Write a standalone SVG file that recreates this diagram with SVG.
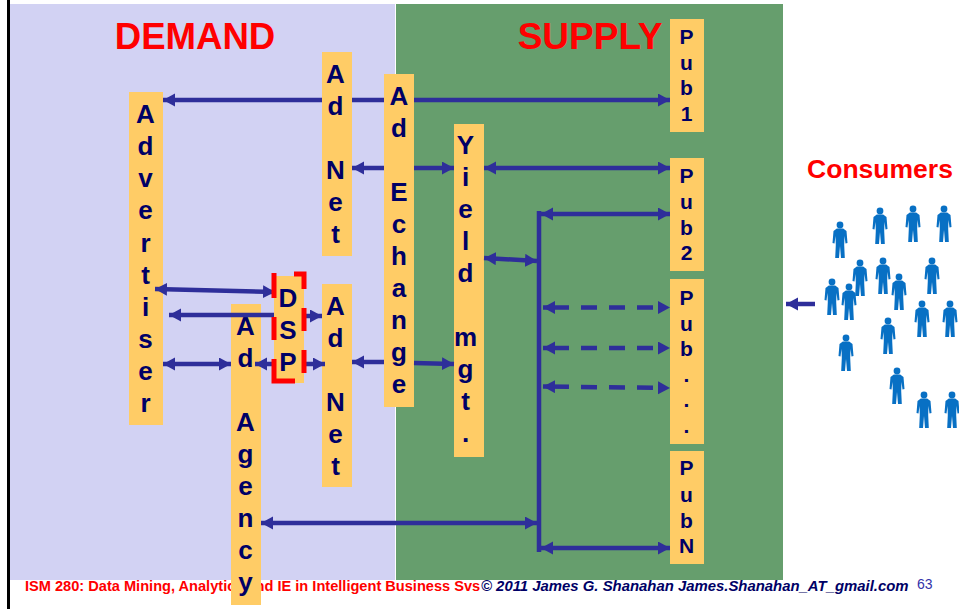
<svg xmlns="http://www.w3.org/2000/svg" width="959" height="609" viewBox="0 0 959 609">
<style>
text{font-family:"Liberation Sans",Arial,sans-serif}
.box{fill:#ffcc66}
.big{font-size:26px;font-weight:bold;fill:#000066;text-anchor:middle}
.small{font-size:21px;font-weight:bold;fill:#000066;text-anchor:middle}
.c{fill:none;stroke:#2e2e9a;stroke-width:4.5}
.both{marker-start:url(#ah);marker-end:url(#ah)}
.end{marker-end:url(#ah)}
.start{marker-start:url(#ah)}
.dash{stroke-dasharray:26 12 16 12 16 12 16 20}
.red{fill:none;stroke:#ff0000;stroke-width:5}
.p{fill:#0870c4}
</style>
<defs>
<marker id="ah" markerUnits="userSpaceOnUse" markerWidth="14" markerHeight="14" refX="12" refY="6.5" orient="auto-start-reverse"><path d="M0 0L12 6.5L0 13Z" fill="#2e2e9a"/></marker>
<g id="person"><circle cx="0" cy="-15" r="3.4"/><path d="M-3.2 -11.5H3.2L6.5 -9L7.5 3L5.5 3.5L4.5 -4L4.2 5L4.8 18H1L0 6L-1 18H-4.8L-4.2 5L-4.5 -4L-5.5 3.5L-7.5 3L-6.5 -9Z"/></g>
</defs>
<rect width="959" height="609" fill="#ffffff"/>
<rect x="7" y="0" width="3" height="609" fill="#000000"/>
<rect x="10" y="4" width="385" height="576" fill="#d2d2f3"/>
<rect x="396" y="4" width="387" height="576" fill="#669e6d"/>
<text x="195" y="49" font-size="36.6" font-weight="bold" fill="#ff0000" text-anchor="middle">DEMAND</text>
<text x="590" y="49" font-size="37" font-weight="bold" fill="#ff0000" text-anchor="middle">SUPPLY</text>
<text x="880" y="178" font-size="26.5" font-weight="bold" fill="#ff0000" text-anchor="middle">Consumers</text>
<text x="25" y="591" font-size="14.6" font-weight="bold" fill="#ff0000">ISM 280: Data Mining, Analytics and IE in Intelligent Business Svs</text>
<text x="481" y="591" font-size="14.9" font-weight="bold" font-style="italic" fill="#000066">© 2011 James G. Shanahan James.Shanahan_AT_gmail.com</text>
<text x="917" y="589" font-size="14" fill="#3333aa">63</text>

<g id="advertiser"><rect class="box" x="129" y="92" width="34" height="333"/><text class="big"><tspan x="145.5" y="123">A</tspan><tspan x="145.5" y="155">d</tspan><tspan x="145.5" y="187">v</tspan><tspan x="145.5" y="219">e</tspan><tspan x="145.5" y="252">r</tspan><tspan x="145.5" y="284">t</tspan><tspan x="145.5" y="316">i</tspan><tspan x="145.5" y="348">s</tspan><tspan x="145.5" y="380">e</tspan><tspan x="145.5" y="412">r</tspan></text></g>
<g id="adnet1"><rect class="box" x="322" y="52" width="30" height="204"/><text class="big"><tspan x="335.5" y="83">A</tspan><tspan x="335.5" y="115">d</tspan><tspan x="335.5" y="179">N</tspan><tspan x="335.5" y="211">e</tspan><tspan x="335.5" y="243">t</tspan></text></g>
<g id="adexchange"><rect class="box" x="384" y="74" width="30" height="333"/><text class="big"><tspan x="399" y="105">A</tspan><tspan x="399" y="137">d</tspan><tspan x="399" y="201">E</tspan><tspan x="399" y="233">c</tspan><tspan x="399" y="265">h</tspan><tspan x="399" y="297">a</tspan><tspan x="399" y="329">n</tspan><tspan x="399" y="361">g</tspan><tspan x="399" y="393">e</tspan></text></g>
<g id="yield"><rect class="box" x="454" y="124" width="30" height="333"/><text class="big"><tspan x="465.5" y="154">Y</tspan><tspan x="465.5" y="186">i</tspan><tspan x="465.5" y="218">e</tspan><tspan x="465.5" y="250">l</tspan><tspan x="465.5" y="282">d</tspan><tspan x="465.5" y="346">m</tspan><tspan x="465.5" y="378">g</tspan><tspan x="465.5" y="410">t</tspan><tspan x="465.5" y="442">.</tspan></text></g>
<g id="adagency"><rect class="box" x="231" y="304" width="30" height="301"/><text class="big"><tspan x="245.5" y="335">A</tspan><tspan x="245.5" y="367">d</tspan><tspan x="245.5" y="431">A</tspan><tspan x="245.5" y="463">g</tspan><tspan x="245.5" y="495">e</tspan><tspan x="245.5" y="527">n</tspan><tspan x="245.5" y="559">c</tspan><tspan x="245.5" y="591">y</tspan></text></g>
<g id="adnet2"><rect class="box" x="322" y="284" width="30" height="203"/><text class="big"><tspan x="335.5" y="315">A</tspan><tspan x="335.5" y="347">d</tspan><tspan x="335.5" y="411">N</tspan><tspan x="335.5" y="443">e</tspan><tspan x="335.5" y="475">t</tspan></text></g>
<g id="pub1"><rect class="box" x="670" y="19" width="34" height="113"/><text class="small"><tspan x="686.5" y="44">P</tspan><tspan x="686.5" y="70">u</tspan><tspan x="686.5" y="95">b</tspan><tspan x="686.5" y="121">1</tspan></text></g>
<g id="pub2"><rect class="box" x="670" y="158" width="34" height="113"/><text class="small"><tspan x="686.5" y="183">P</tspan><tspan x="686.5" y="209">u</tspan><tspan x="686.5" y="235">b</tspan><tspan x="686.5" y="260">2</tspan></text></g>
<g id="pubdots"><rect class="box" x="670" y="279" width="34" height="165"/><text class="small"><tspan x="686.5" y="305">P</tspan><tspan x="686.5" y="331">u</tspan><tspan x="686.5" y="356">b</tspan><tspan x="686.5" y="382">.</tspan><tspan x="686.5" y="407">.</tspan><tspan x="686.5" y="433">.</tspan></text></g>
<g id="pubn"><rect class="box" x="670" y="451" width="34" height="113"/><text class="small"><tspan x="686.5" y="475">P</tspan><tspan x="686.5" y="502">u</tspan><tspan x="686.5" y="528">b</tspan><tspan x="686.5" y="553">N</tspan></text></g>

<g id="connectors">
<path class="c both" d="M163 100H322M352 100H384M414 100H670"/>
<path class="c both" d="M352 168H384M414 168H454"/>
<path class="c both" d="M484 168H670"/>
<path class="c" d="M539 211V552"/>
<path class="c both" d="M541 214H670"/>
<path class="c both" d="M484 258L537 261"/>
<path class="c both dash" d="M543 307.5H670"/>
<path class="c both dash" d="M543 348H670"/>
<path class="c both dash" d="M543 386.5L670 388"/>
<path class="c both" d="M261 523H537"/>
<path class="c both" d="M541 548H670"/>
<path class="c both" d="M155 289L275 292"/>
<path class="c start" d="M169 315H274"/>
<path class="c end" d="M304 316H322"/>
<path class="c both" d="M163 364H231"/>
<path class="c both" d="M255 364H274M304 364H325"/>
<path class="c start" d="M352 362H384"/>
<path class="c end" d="M414 363L454 364"/>
<path class="c start" d="M786 304H815"/>
</g>
<g id="dsp"><rect class="box" x="274" y="276" width="30" height="107"/><text class="big"><tspan x="288" y="307">D</tspan><tspan x="288" y="339">S</tspan><tspan x="288" y="371">P</tspan></text><path class="red" d="M274 273V298M274 317V340M274 359V381H295M294 274H304V289M304 308V331M304 350V373"/></g>
<g id="consumers" class="p">
<use href="#person" x="840" y="240"/><use href="#person" x="880" y="226"/><use href="#person" x="913" y="224"/><use href="#person" x="944" y="224"/>
<use href="#person" x="860" y="278"/><use href="#person" x="883" y="276"/><use href="#person" x="899" y="292"/><use href="#person" x="932" y="276"/>
<use href="#person" x="832" y="297"/><use href="#person" x="849" y="302"/><use href="#person" x="922" y="319"/><use href="#person" x="950" y="319"/>
<use href="#person" x="888" y="336"/><use href="#person" x="846" y="353"/><use href="#person" x="897" y="386"/><use href="#person" x="924" y="410"/><use href="#person" x="952" y="410"/>
</g>
</svg>
